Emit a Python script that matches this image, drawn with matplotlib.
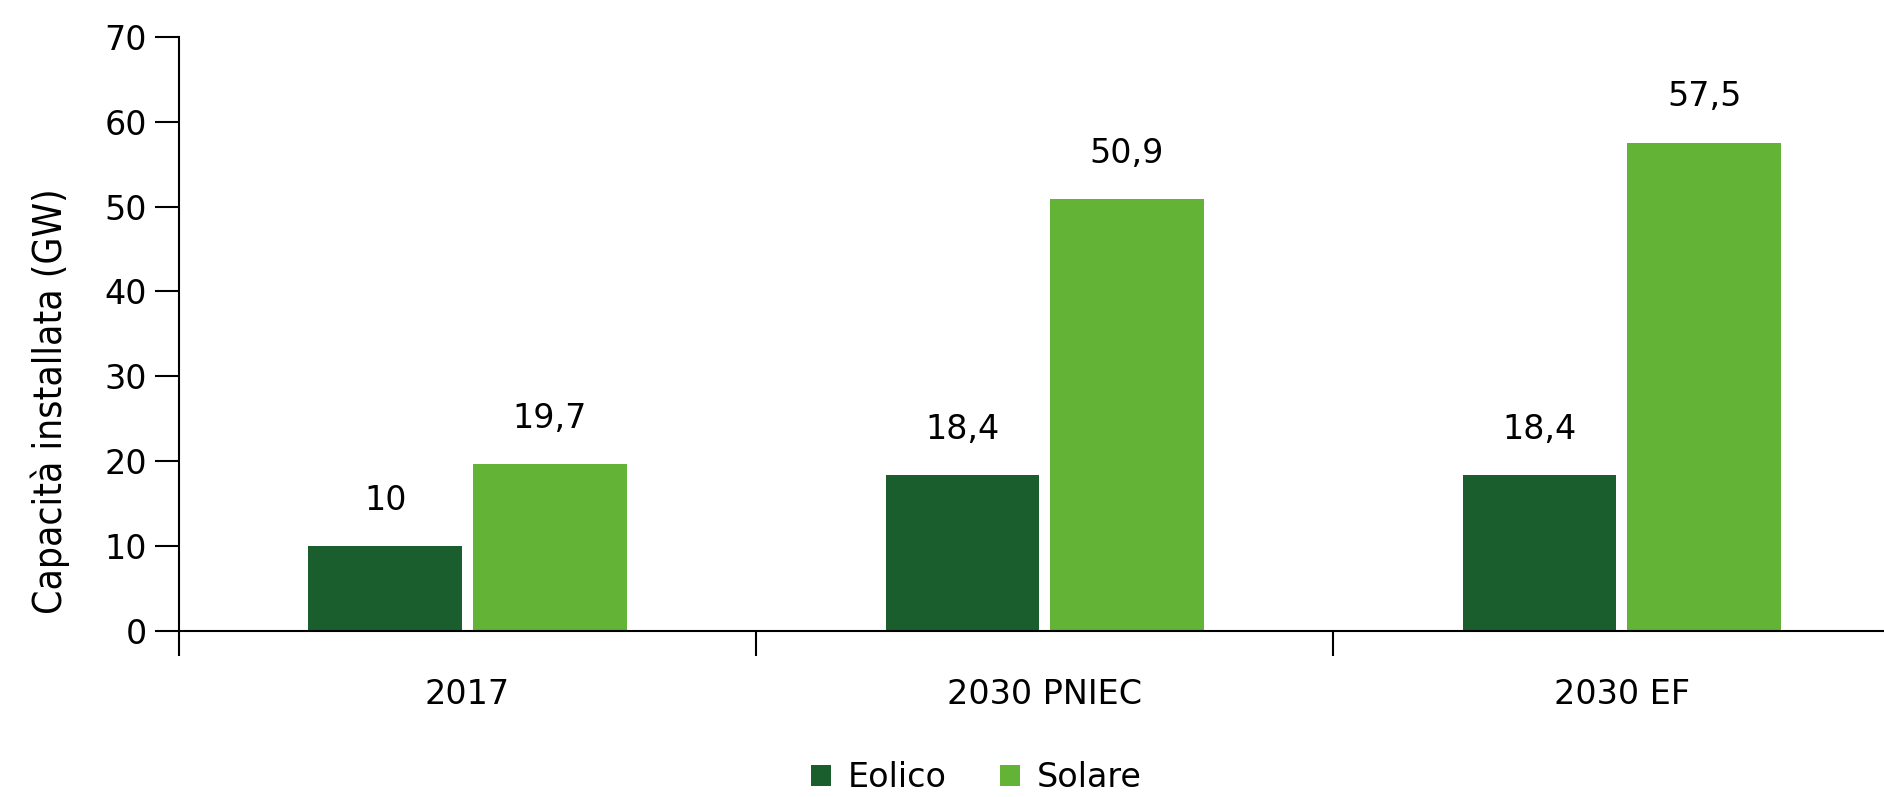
import matplotlib.pyplot as plt
import numpy as np

categories = ['2017', '2030 PNIEC', '2030 EF']
eolico = [10, 18.4, 18.4]
solare = [19.7, 50.9, 57.5]
eolico_labels = ['10', '18,4', '18,4']
solare_labels = ['19,7', '50,9', '57,5']

col_eolico = '#1b5e2e'
col_solare = '#63b336'

plt.rcParams['font.family'] = ['DejaVu Sans']
fs = 24

fig = plt.figure(figsize=(18.84, 7.97), dpi=100)
ax = fig.add_axes([0.095, 0.208, 0.919, 0.746])

x = np.arange(len(categories))
w = 0.266
off = 0.1426
b1 = ax.bar(x - off, eolico, w, color=col_eolico, label='Eolico')
b2 = ax.bar(x + off, solare, w, color=col_solare, label='Solare')

for rect, lab in zip(b1, eolico_labels):
    ax.text(rect.get_x() + rect.get_width() / 2, rect.get_height() + 5.4, lab,
            ha='center', va='center', fontsize=fs)
for rect, lab in zip(b2, solare_labels):
    ax.text(rect.get_x() + rect.get_width() / 2, rect.get_height() + 5.4, lab,
            ha='center', va='center', fontsize=fs)

ax.set_xlim(-0.5, 2.5)
ax.set_ylim(0, 70)
ax.set_yticks(np.arange(0, 71, 10))
ax.tick_params(axis='y', labelsize=fs, length=17, width=1.5, pad=6)

# category labels centred, ticks at the group boundaries
ax.set_xticks(x)
ax.set_xticklabels(categories)
ax.tick_params(axis='x', which='major', length=0, labelsize=fs, pad=34)
ax.set_xticks(np.arange(-0.5, 2.6, 1), minor=True)
ax.tick_params(axis='x', which='minor', length=18, width=1.5)

ax.spines['top'].set_visible(False)
ax.spines['right'].set_visible(False)
ax.spines['left'].set_linewidth(1.5)
ax.spines['bottom'].set_linewidth(1.5)

ax.set_ylabel('Capacità installata (GW)', fontsize=28, fontstretch='condensed')
ax.yaxis.set_label_coords(-0.063, 0.387)

fig.legend(handles=[b1, b2], labels=['Eolico', 'Solare'], loc='center',
           bbox_to_anchor=(0.518, 0.024), ncol=2, frameon=False, fontsize=fs,
           handlelength=0.6, handleheight=0.6, handletextpad=0.5, columnspacing=1.6)

fig.savefig('out.png', dpi=100)
